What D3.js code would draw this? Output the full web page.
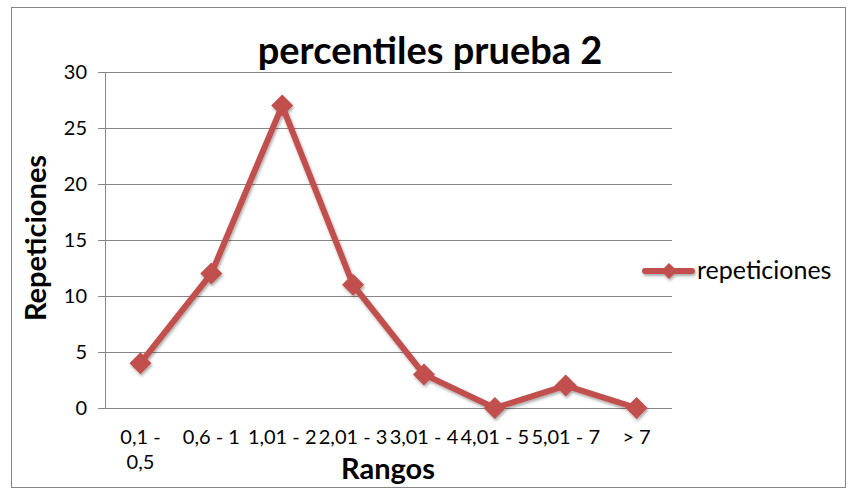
<!DOCTYPE html>
<html lang="es">
<head>
  <meta charset="UTF-8" />
  <title>percentiles prueba 2</title>
  <script src="https://d3js.org/d3.v7.min.js"></script>
  <style>
    body { margin: 0; background: #fff; font-family: Lato, 'Open Sans', sans-serif; }
    text { font-family: Lato, 'Open Sans', sans-serif; fill: #000; }
  </style>
</head>
<body>
<script>
  const categories = [["0,1 -", "0,5"], ["0,6 - 1"], ["1,01 - 2"], ["2,01 - 3"], ["3,01 - 4"], ["4,01 - 5"], ["5,01 - 7"], ["> 7"]];
  const repeticiones = [4, 12, 27, 11, 3, 0, 2, 0];
  const yTicks = [0, 5, 10, 15, 20, 25, 30];
  const seriesName = "repeticiones";

  const width = 850, height = 489;
  const plot = { left: 105, right: 672, top: 72, bottom: 408 };
  const red = "#C0504D";
  const grid = "#868686";

  const svg = d3.select("body").append("svg")
    .attr("width", width)
    .attr("height", height);

  // soft shadow like the Excel marker effect
  const defs = svg.append("defs");
  const f = defs.append("filter").attr("id", "shadow")
    .attr("x", "-20%").attr("y", "-20%").attr("width", "140%").attr("height", "140%");
  f.append("feDropShadow").attr("dx", 1).attr("dy", 2).attr("stdDeviation", 1.5)
    .attr("flood-color", "#000").attr("flood-opacity", 0.35);

  // outer chart border
  svg.append("rect")
    .attr("x", 11.5).attr("y", 7.5)
    .attr("width", 834).attr("height", 480)
    .attr("fill", "#fff").attr("stroke", grid).attr("stroke-width", 1);

  const x = d3.scaleBand()
    .domain(d3.range(categories.length))
    .range([plot.left, plot.right]);

  const y = d3.scaleLinear()
    .domain([0, 30])
    .range([plot.bottom, plot.top]);

  // y axis ticks
  const yAxis = svg.append("g")
    .attr("transform", `translate(${plot.left},0)`)
    .call(d3.axisLeft(y).tickValues(yTicks).tickSize(7).tickPadding(11));
  yAxis.select(".domain").attr("stroke", grid);
  yAxis.selectAll(".tick line").attr("stroke", grid);
  yAxis.selectAll(".tick text")
    .attr("font-family", null)
    .style("font-size", "20px");

  // gridlines
  svg.append("g").selectAll("line")
    .data(yTicks)
    .join("line")
    .attr("x1", plot.left).attr("x2", plot.right)
    .attr("y1", d => Math.round(y(d)) + 0.5).attr("y2", d => Math.round(y(d)) + 0.5)
    .attr("stroke", grid).attr("stroke-width", 1);

  svg.append("line")
    .attr("x1", plot.left + 0.5).attr("x2", plot.left + 0.5)
    .attr("y1", plot.top).attr("y2", plot.bottom)
    .attr("stroke", grid);

  // x category labels
  const xl = svg.append("g").selectAll("text")
    .data(categories)
    .join("text")
    .attr("text-anchor", "middle")
    .style("font-size", "20px")
    .attr("x", (d, i) => x(i) + x.bandwidth() / 2)
    .attr("y", 444);
  xl.selectAll("tspan")
    .data(d => d)
    .join("tspan")
    .attr("x", function() { return this.parentNode.getAttribute("x"); })
    .attr("dy", (d, i) => i === 0 ? 0 : 25)
    .text(d => d);

  // series line
  const line = d3.line()
    .x((d, i) => x(i) + x.bandwidth() / 2)
    .y(d => y(d));

  const diamond = "M0,-11L11,0L0,11L-11,0Z";

  const series = svg.append("g").attr("filter", "url(#shadow)");
  series.append("path")
    .datum(repeticiones)
    .attr("d", line)
    .attr("fill", "none")
    .attr("stroke", red)
    .attr("stroke-width", 6)
    .attr("stroke-linejoin", "round");

  series.selectAll(".pt")
    .data(repeticiones)
    .join("path")
    .attr("class", "pt")
    .attr("d", diamond)
    .attr("transform", (d, i) => `translate(${x(i) + x.bandwidth() / 2},${y(d)})`)
    .attr("fill", red);

  // titles
  svg.append("text")
    .attr("x", 430).attr("y", 64)
    .attr("text-anchor", "middle")
    .style("font-size", "38px").attr("font-weight", "bold")
    .text("percentiles prueba 2");

  svg.append("text")
    .attr("transform", "translate(46,238) rotate(-90)")
    .attr("text-anchor", "middle")
    .style("font-size", "29px").attr("font-weight", "bold")
    .text("Repeticiones");

  svg.append("text")
    .attr("x", 388).attr("y", 479)
    .attr("text-anchor", "middle")
    .style("font-size", "29px").attr("font-weight", "bold")
    .text("Rangos");

  // legend
  const lg = svg.append("g").attr("transform", "translate(645,271)");
  const lgMark = lg.append("g").attr("filter", "url(#shadow)");
  lgMark.append("line")
    .attr("x1", 0).attr("x2", 47)
    .attr("stroke", red).attr("stroke-width", 6).attr("stroke-linecap", "round");
  lgMark.append("path")
    .attr("d", "M0,-8L8,0L0,8L-8,0Z")
    .attr("transform", "translate(24,0)")
    .attr("fill", red);
  lg.append("text")
    .attr("x", 52).attr("y", 8)
    .style("font-size", "25px")
    .text(seriesName);
</script>
</body>
</html>
